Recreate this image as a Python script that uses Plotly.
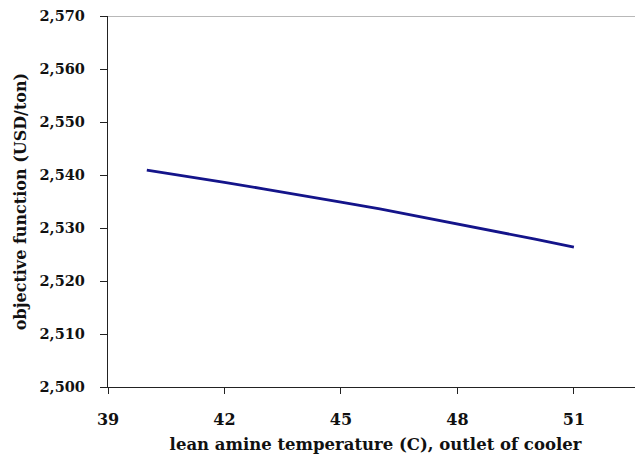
import plotly.graph_objects as go

# Data
temperature = [40, 41, 42, 43, 44, 45, 46, 47, 48, 49, 50, 51]
objective = [2540.9, 2539.8, 2538.6, 2537.4, 2536.2, 2534.9,
             2533.6, 2532.2, 2530.8, 2529.4, 2527.9, 2526.4]
x_ticks = [39, 42, 45, 48, 51]
y_ticks = [2500, 2510, 2520, 2530, 2540, 2550, 2560, 2570]
y_tick_labels = ["2,500", "2,510", "2,520", "2,530", "2,540", "2,550", "2,560", "2,570"]

font_family = "DejaVu Serif"

fig = go.Figure()
fig.add_trace(go.Scatter(
    x=temperature, y=objective, mode="lines",
    line=dict(color="#14148a", width=2.8),
    showlegend=False,
))

# top border line (gray) at the top of the value axis
fig.add_shape(type="line", xref="paper", yref="y", x0=0, x1=1,
              y0=y_ticks[-1], y1=y_ticks[-1],
              line=dict(color="#a0a0a0", width=1.5), layer="below")

# the page body has an 8px margin, so the figure is sized to fit the window
fig.update_layout(
    width=635, height=446,
    margin=dict(l=100, r=0, t=8, b=67),
    paper_bgcolor="white", plot_bgcolor="white",
    font=dict(family=font_family, color="#111111"),
)
fig.update_xaxes(
    range=[39, 52.78], automargin=False,
    tickvals=x_ticks, ticktext=[str(v) for v in x_ticks],
    showgrid=False, zeroline=False,
    showline=True, linecolor="#222222", linewidth=1.3,
    ticks="outside", ticklen=6, tickcolor="#222222", tickwidth=1.3,
    tickfont=dict(family=font_family, size=16, weight="bold"),
    ticklabelstandoff=12, ticklabeloverflow="allow",
    title=dict(text="lean amine temperature (C), outlet of cooler",
               font=dict(family=font_family, size=16.5, weight="bold"),
               standoff=10),
)
fig.update_yaxes(
    range=[2500, 2570], automargin=False,
    tickvals=y_ticks, ticktext=y_tick_labels,
    showgrid=False, zeroline=False,
    showline=True, linecolor="#222222", linewidth=1.3,
    ticks="outside", ticklen=7, tickcolor="#222222", tickwidth=1.3,
    tickfont=dict(family=font_family, size=14.5, weight="bold"),
    ticklabelstandoff=12, ticklabeloverflow="allow",
    title=dict(text="objective function (USD/ton)",
               font=dict(family=font_family, size=16, weight="bold"),
               standoff=8),
)

fig.write_html("out.html")
